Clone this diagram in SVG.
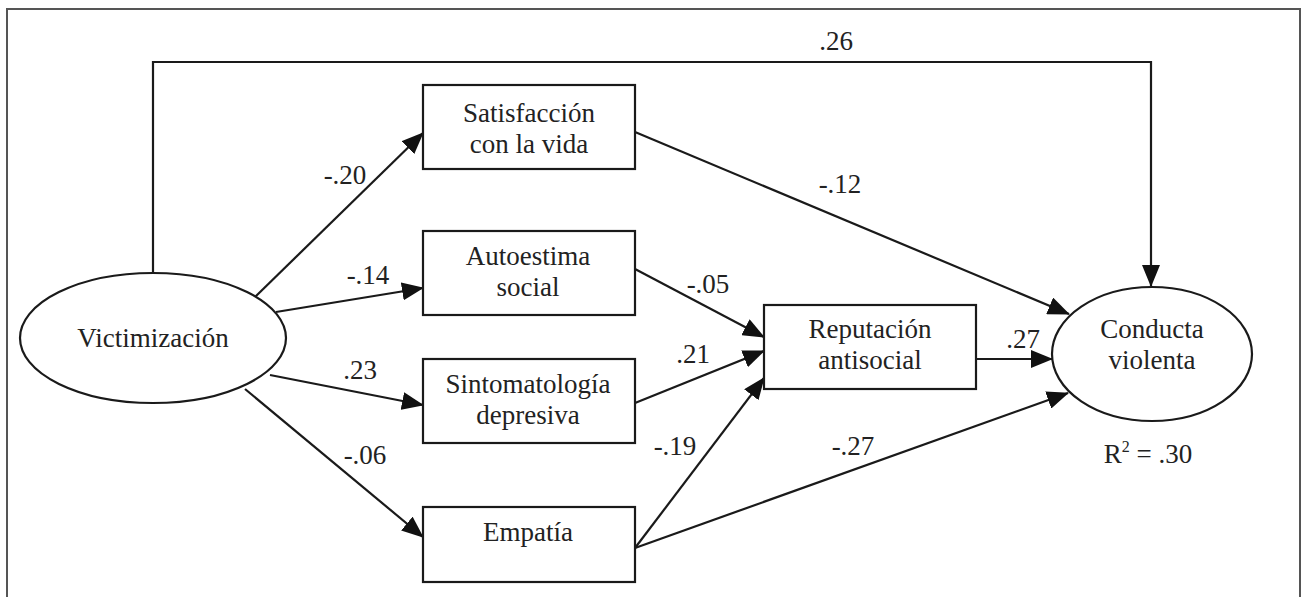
<svg xmlns="http://www.w3.org/2000/svg" width="1302" height="597" viewBox="0 0 1302 597">
<style>
  .shape { fill: #fff; stroke: #1a1a1a; stroke-width: 2.2; }
  .edge { fill: none; stroke: #1a1a1a; stroke-width: 2.2; }
  text { font-family: "Liberation Serif", "Times New Roman", serif; font-size: 27px; fill: #222; text-anchor: middle; }
</style>
<defs>
  <marker id="arr" markerUnits="userSpaceOnUse" markerWidth="22" markerHeight="18" viewBox="0 0 22 18" refX="21" refY="9" orient="auto">
    <path d="M0,0 L22,9 L0,18 Z" fill="#111"/>
  </marker>
</defs>
<rect x="0" y="0" width="1302" height="597" fill="#fff"/>
<path d="M7,597 V9 H1300 V597" fill="none" stroke="#555" stroke-width="2"/>

<g id="connectors">
  <path class="edge" d="M153,273 V62 H1151 V286" marker-end="url(#arr)"/>
  <line class="edge" x1="255" y1="297" x2="423" y2="133" marker-end="url(#arr)"/>
  <line class="edge" x1="276" y1="312" x2="423" y2="288" marker-end="url(#arr)"/>
  <line class="edge" x1="270" y1="375" x2="423" y2="405" marker-end="url(#arr)"/>
  <line class="edge" x1="245" y1="389" x2="423" y2="537" marker-end="url(#arr)"/>
  <line class="edge" x1="635" y1="132" x2="1069" y2="314" marker-end="url(#arr)"/>
  <line class="edge" x1="635" y1="269" x2="764" y2="337" marker-end="url(#arr)"/>
  <line class="edge" x1="635" y1="403" x2="764" y2="351" marker-end="url(#arr)"/>
  <line class="edge" x1="635" y1="548" x2="764" y2="378" marker-end="url(#arr)"/>
  <line class="edge" x1="635" y1="548" x2="1068" y2="393" marker-end="url(#arr)"/>
  <line class="edge" x1="976" y1="359" x2="1052" y2="359" marker-end="url(#arr)"/>
  <g id="edge-labels">
    <text x="836" y="50">.26</text>
    <text x="345" y="184">-.20</text>
    <text x="368" y="284">-.14</text>
    <text x="360" y="379">.23</text>
    <text x="365" y="464">-.06</text>
    <text x="840" y="193">-.12</text>
    <text x="708" y="293">-.05</text>
    <text x="693" y="363">.21</text>
    <text x="675" y="455">-.19</text>
    <text x="853" y="455">-.27</text>
    <text x="1023" y="348">.27</text>
  </g>
</g>

<g id="victimizacion">
  <ellipse class="shape" cx="153" cy="338" rx="133" ry="65"/>
  <text x="153" y="347">Victimización</text>
</g>
<g id="satisfaccion">
  <rect class="shape" x="423" y="85" width="212" height="84"/>
  <text x="529" y="122">Satisfacción</text>
  <text x="529" y="153">con la vida</text>
</g>
<g id="autoestima">
  <rect class="shape" x="423" y="231" width="212" height="84"/>
  <text x="528" y="265">Autoestima</text>
  <text x="528" y="296">social</text>
</g>
<g id="sintomatologia">
  <rect class="shape" x="423" y="359" width="212" height="84"/>
  <text x="528" y="393">Sintomatología</text>
  <text x="528" y="424">depresiva</text>
</g>
<g id="empatia">
  <rect class="shape" x="423" y="507" width="212" height="75"/>
  <text x="528" y="541">Empatía</text>
</g>
<g id="reputacion">
  <rect class="shape" x="764" y="305" width="212" height="84"/>
  <text x="870" y="338">Reputación</text>
  <text x="870" y="369">antisocial</text>
</g>
<g id="conducta">
  <ellipse class="shape" cx="1152" cy="354" rx="100" ry="67"/>
  <text x="1152" y="338">Conducta</text>
  <text x="1152" y="369">violenta</text>
  <text x="1148" y="463">R<tspan font-size="16" dy="-11">2</tspan><tspan dy="11"> = .30</tspan></text>
</g>
</svg>
